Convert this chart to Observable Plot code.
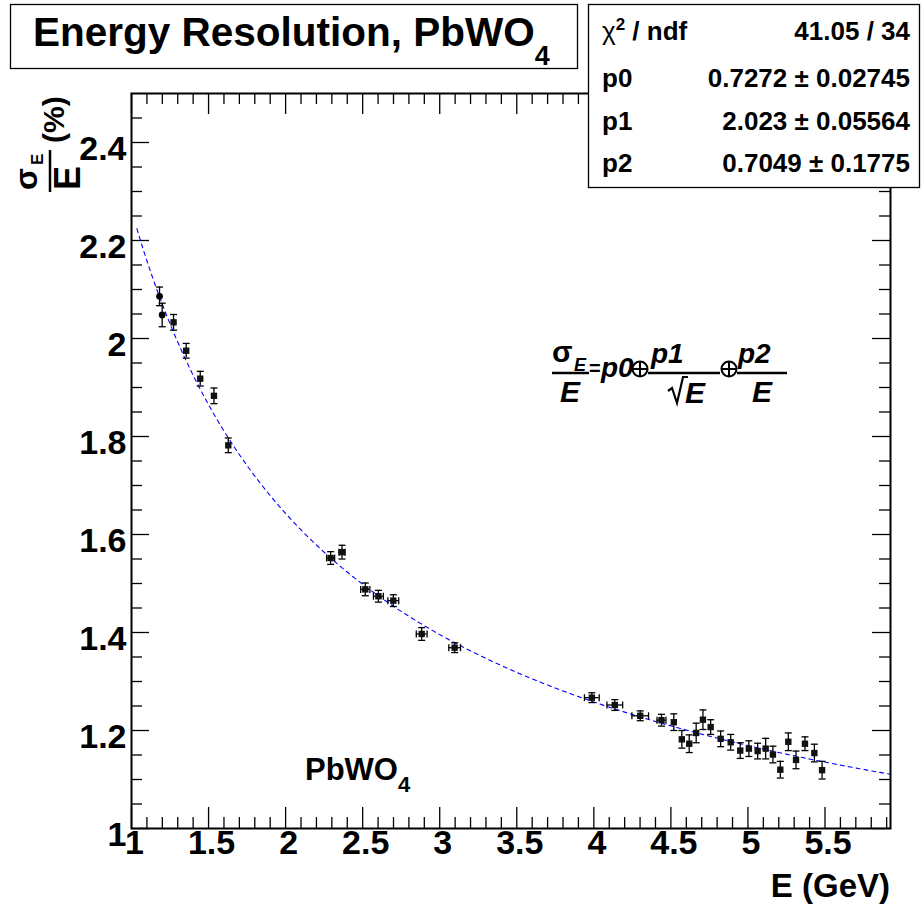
<!DOCTYPE html>
<html>
<head>
<meta charset="utf-8">
<script src="https://cdn.jsdelivr.net/npm/d3@7"></script>
<script src="https://cdn.jsdelivr.net/npm/@observablehq/plot@0.6"></script>
<style>
  body { margin: 0; background: #fff; }
  #chart svg { display: block; }
</style>
</head>
<body>
<div id="chart"></div>
<script>
// Beam energy (GeV) and measured relative resolution sigma_E/E (%)
const energy = [1.182, 1.199, 1.273, 1.355, 1.446, 1.535, 1.628,
  2.292, 2.366, 2.517, 2.602, 2.699, 2.883, 3.097,
  3.987, 4.136, 4.301, 4.439, 4.519, 4.571, 4.619, 4.664, 4.708, 4.758,
  4.823, 4.888, 4.950, 5.006, 5.063, 5.115, 5.162, 5.210, 5.262, 5.312,
  5.370, 5.431, 5.481];
const resolution = [2.086, 2.048, 2.033, 1.975, 1.918, 1.883, 1.782,
  1.552, 1.564, 1.488, 1.474, 1.465, 1.397, 1.369,
  1.267, 1.252, 1.230, 1.221, 1.217, 1.182, 1.173, 1.195, 1.222, 1.207,
  1.183, 1.176, 1.159, 1.163, 1.158, 1.163, 1.151, 1.120, 1.177, 1.140,
  1.173, 1.154, 1.119];
const resolutionErr = [0.019, 0.024, 0.016, 0.015, 0.015, 0.016, 0.015,
  0.013, 0.014, 0.013, 0.012, 0.012, 0.013, 0.010,
  0.010, 0.011, 0.010, 0.012, 0.017, 0.018, 0.018, 0.020, 0.020, 0.015,
  0.016, 0.016, 0.016, 0.016, 0.016, 0.021, 0.017, 0.017, 0.018, 0.018,
  0.014, 0.018, 0.018];
const energyErr = [0, 0, 0, 0, 0, 0, 0,
  0.026, 0.020, 0.030, 0.032, 0.035, 0.035, 0.038,
  0.048, 0.051, 0.054, 0.029, 0, 0, 0, 0, 0, 0,
  0.008, 0.008, 0.006, 0.010, 0.010, 0.006, 0.006, 0.006, 0.008, 0.006,
  0.008, 0.008, 0.006];

// Fit result: sigma/E = p0 (+) p1/sqrt(E) (+) p2/E
const fitNames = ["p0", "p1", "p2"];
const fitValues = [0.7272, 2.023, 0.7049];
const fitErrors = ["0.02745", "0.05564", "0.1775"];
const fitValueText = ["0.7272", "2.023", "0.7049"];
const chi2Text = "41.05 / 34";

// Axis ticks
const xTickLabels = [1, 1.5, 2, 2.5, 3, 3.5, 4, 4.5, 5, 5.5];
const yTickLabels = [1, 1.2, 1.4, 1.6, 1.8, 2, 2.2, 2.4];

const W = 922, H = 907;
const mLeft = 131, mRight = 32, mTop = 93, mBottom = 79;
const innerW = W - mLeft - mRight, innerH = H - mTop - mBottom;
const xDomain = [1, 5.925], yDomain = [1, 2.5];

const points = energy.map((E, i) => ({
  E, res: resolution[i], err: resolutionErr[i], ex: energyErr[i], i
}));

const [p0, p1, p2] = fitValues;
const fitCurve = d3.range(1.035, xDomain[1], 0.01).concat([xDomain[1]]).map(E => ({
  E, res: Math.sqrt(p0 * p0 + p1 * p1 / E + p2 * p2 / (E * E))
}));

// minor ticks
const xMinor = d3.range(11, 60).map(k => k / 10).filter(v => Math.abs(v * 2 - Math.round(v * 2)) > 1e-6);
const yMinor = d3.range(21, 50).map(k => k / 20).filter(v => Math.abs(v * 5 - Math.round(v * 5)) > 1e-6);

const capH = {draw(ctx) { ctx.moveTo(-3.5, 0); ctx.lineTo(3.5, 0); }};
const capV = {draw(ctx) { ctx.moveTo(0, -3.5); ctx.lineTo(0, 3.5); }};

const tickStroke = {stroke: "black", strokeWidth: 1.3};
const bigMajX = 21, bigMinX = 11, bigMajY = 18, bigMinY = 11;

const plot = Plot.plot({
  width: W, height: H,
  marginLeft: mLeft, marginRight: mRight, marginTop: mTop, marginBottom: mBottom,
  x: {domain: xDomain, axis: null},
  y: {domain: yDomain, axis: null},
  style: {fontFamily: "Arial, 'Liberation Sans', Helvetica, sans-serif", background: "white", color: "black"},
  marks: [
    // bottom and top ticks
    Plot.ruleX(xTickLabels, {x: d => d, insetTop: innerH - bigMajX, ...tickStroke}),
    Plot.ruleX(xTickLabels, {x: d => d, insetBottom: innerH - bigMajX, ...tickStroke}),
    Plot.ruleX(xMinor, {x: d => d, insetTop: innerH - bigMinX, ...tickStroke}),
    Plot.ruleX(xMinor, {x: d => d, insetBottom: innerH - bigMinX, ...tickStroke}),
    // left and right ticks
    Plot.ruleY(yTickLabels, {y: d => d, insetRight: innerW - bigMajY, ...tickStroke}),
    Plot.ruleY(yTickLabels, {y: d => d, insetLeft: innerW - bigMajY, ...tickStroke}),
    Plot.ruleY(yMinor, {y: d => d, insetRight: innerW - bigMinY, ...tickStroke}),
    Plot.ruleY(yMinor, {y: d => d, insetLeft: innerW - bigMinY, ...tickStroke}),
    // tick labels
    Plot.text(xTickLabels, {x: d => d, frameAnchor: "bottom", dx: 3, dy: 25, text: d => String(d),
      fontSize: 34, fontWeight: "bold", fill: "black"}),
    Plot.text(yTickLabels, {y: d => d, frameAnchor: "left", dx: -5, dy: 7, textAnchor: "end",
      text: d => String(d), fontSize: 34, fontWeight: "bold", fill: "black"}),
    // fit function
    Plot.line(fitCurve, {x: "E", y: "res", stroke: "#0000ff", strokeWidth: 1.1, strokeDasharray: "4,4"}),
    // error bars
    Plot.ruleX(points, {x: "E", y1: d => d.res - d.err, y2: d => d.res + d.err, stroke: "black", strokeWidth: 1.3}),
    Plot.dot(points, {x: "E", y: d => d.res - d.err, symbol: capH, stroke: "black", fill: "none", strokeWidth: 1.3}),
    Plot.dot(points, {x: "E", y: d => d.res + d.err, symbol: capH, stroke: "black", fill: "none", strokeWidth: 1.3}),
    Plot.ruleY(points.filter(d => d.ex > 0), {y: "res", x1: d => d.E - d.ex, x2: d => d.E + d.ex, stroke: "black", strokeWidth: 1.3}),
    Plot.dot(points.filter(d => d.ex > 0.015), {x: d => d.E - d.ex, y: "res", symbol: capV, stroke: "black", fill: "none", strokeWidth: 1.3}),
    Plot.dot(points.filter(d => d.ex > 0.015), {x: d => d.E + d.ex, y: "res", symbol: capV, stroke: "black", fill: "none", strokeWidth: 1.3}),
    // markers
    Plot.dot(points.filter(d => d.i < 2), {x: "E", y: "res", symbol: "circle", r: 3.4, fill: "black", stroke: "none"}),
    Plot.dot(points.filter(d => d.i >= 2), {x: "E", y: "res", symbol: "square", r: 3.6, fill: "#111", stroke: "none"}),
    Plot.frame({stroke: "black", strokeWidth: 2})
  ]
});

document.getElementById("chart").appendChild(plot);

// ---- annotations drawn on top of the plot ----
const svg = d3.select(plot);
const FONT = "Arial, 'Liberation Sans', Helvetica, sans-serif";
const layer = svg.append("g").attr("text-anchor", "start").attr("font-family", FONT)
  .attr("font-weight", "bold").attr("fill", "black");

// title box
layer.append("rect").attr("x", 10.5).attr("y", 4.5).attr("width", 567).attr("height", 64)
  .attr("fill", "white").attr("stroke", "black").attr("stroke-width", 1.3);
const title = layer.append("text").attr("x", 33).attr("y", 46).attr("font-size", 40.5);
title.append("tspan").text("Energy Resolution, PbWO");
title.append("tspan").attr("font-size", 27).attr("dy", 19).text("4");

// fit statistics box
layer.append("rect").attr("x", 588.5).attr("y", 4.5).attr("width", 331).attr("height", 183)
  .attr("fill", "white").attr("stroke", "black").attr("stroke-width", 1.3);
const statRowY = [40, 87, 130, 172];
const statL = 602, statR = 910;
const st = layer.append("g").attr("font-size", 26);
const chiLabel = st.append("text").attr("x", statL).attr("y", statRowY[0]);
chiLabel.append("tspan").attr("font-weight", "normal").text("χ");
chiLabel.append("tspan").attr("font-size", 17).attr("dy", -10).text("2");
chiLabel.append("tspan").attr("dy", 10).text(" / ndf");
st.append("text").attr("x", statR).attr("y", statRowY[0]).attr("text-anchor", "end").text(chi2Text);
fitNames.forEach((name, k) => {
  st.append("text").attr("x", statL).attr("y", statRowY[k + 1]).text(name);
  st.append("text").attr("x", statR).attr("y", statRowY[k + 1]).attr("text-anchor", "end")
    .text(`${fitValueText[k]} ± ${fitErrors[k]}`);
});

// vertical axis title: sigma_E / E (%)
const yt = layer.append("g").attr("transform", "translate(50,192) rotate(-90)");
yt.append("text").attr("x", 2).attr("y", -13).attr("font-size", 32).text("σ");
yt.append("text").attr("x", 27).attr("y", -7).attr("font-size", 17).text("E");
yt.append("line").attr("x1", 0).attr("x2", 42).attr("y1", 0).attr("y2", 0).attr("stroke", "black").attr("stroke-width", 2.5);
yt.append("text").attr("x", 2).attr("y", 30).attr("font-size", 36).text("E");
yt.append("text").attr("x", 49).attr("y", 14).attr("font-size", 30).text("(%)");

// horizontal axis title
layer.append("text").attr("x", 890).attr("y", 897).attr("text-anchor", "end")
  .attr("font-size", 33).text("E (GeV)");

// material label
const mat = layer.append("text").attr("x", 305).attr("y", 780).attr("font-size", 31);
mat.append("tspan").text("PbWO");
mat.append("tspan").attr("font-size", 22).attr("dy", 12).text("4");

// fit formula
const fm = layer.append("g");
const it = sel => sel.attr("font-style", "italic");
function oplus(cx, cy) {
  fm.append("circle").attr("cx", cx).attr("cy", cy).attr("r", 7.5).attr("fill", "none").attr("stroke", "black").attr("stroke-width", 2);
  fm.append("line").attr("x1", cx - 7.5).attr("x2", cx + 7.5).attr("y1", cy).attr("y2", cy).attr("stroke", "black").attr("stroke-width", 2);
  fm.append("line").attr("x1", cx).attr("x2", cx).attr("y1", cy - 7.5).attr("y2", cy + 7.5).attr("stroke", "black").attr("stroke-width", 2);
}
function bar(x1, x2, y) {
  fm.append("line").attr("x1", x1).attr("x2", x2).attr("y1", y).attr("y2", y).attr("stroke", "black").attr("stroke-width", 2.5);
}
fm.append("text").attr("x", 552).attr("y", 362).attr("font-size", 30).text("σ");
it(fm.append("text").attr("x", 574).attr("y", 371).attr("font-size", 18).text("E"));
bar(552, 589, 373);
it(fm.append("text").attr("x", 570).attr("y", 402).attr("font-size", 30).attr("text-anchor", "middle").text("E"));
fm.append("text").attr("x", 589).attr("y", 375).attr("font-size", 20).text("=");
it(fm.append("text").attr("x", 601).attr("y", 377).attr("font-size", 28).text("p0"));
oplus(640, 369);
it(fm.append("text").attr("x", 651).attr("y", 363).attr("font-size", 28).text("p1"));
bar(648, 720, 373);
fm.append("path").attr("d", "M668,391 L672,388 L677,403 L683,377 L688,377").attr("fill", "none")
  .attr("stroke", "black").attr("stroke-width", 2.2).attr("stroke-linejoin", "miter");
it(fm.append("text").attr("x", 685).attr("y", 403).attr("font-size", 30).text("E"));
oplus(729, 369);
it(fm.append("text").attr("x", 738).attr("y", 363).attr("font-size", 28).text("p2"));
bar(737, 787, 373);
it(fm.append("text").attr("x", 762).attr("y", 402).attr("font-size", 30).attr("text-anchor", "middle").text("E"));
</script>
</body>
</html>
